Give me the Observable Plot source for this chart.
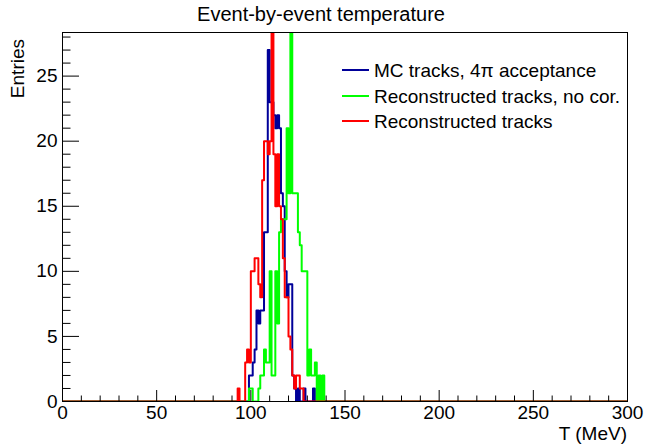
<!DOCTYPE html>
<html><head><meta charset="utf-8">
<script src="https://cdn.jsdelivr.net/npm/d3@7"></script>
<script src="https://cdn.jsdelivr.net/npm/@observablehq/plot@0.6"></script>
<style>
html,body{margin:0;padding:0;background:#fff;}
svg{display:block;}
</style></head><body><div id="chart"></div>
<script>
// ---- chart text ----
const chartTitle = "Event-by-event temperature";
const xTitle = "T (MeV)";
const yTitle = "Entries";
const seriesNames = ["MC tracks, 4\u03c0 acceptance", "Reconstructed tracks, no cor.", "Reconstructed tracks"];
const seriesColors = ["#000099", "#00ff00", "#ff0000"];

// ---- histogram axis (1 MeV bins from 0 to 300 MeV) ----
const tRange = [0, 300];
const binWidth = 1;
const yMax = 28.35;

// ---- bin contents (first bin low edge, then counts per 1 MeV bin) ----
const mcFirstBin = 99;
const mcCounts = [2, 2, 3, 4, 7, 6, 7, 7, 13, 13, 27, 23, 23, 22, 21, 22, 21, 16, 15, 10, 8, 9, 9, 2, 1, 0, 1, 0, 0, 1, 0, 0, 0, 0, 1];

const noCorFirstBin = 99;
const noCorCounts = [1, 1, 0, 0, 0, 1, 2, 2, 4, 3, 3, 10, 2, 2, 10, 6, 13, 14, 14, 14, 21, 16, 30, 16, 16, 16, 13, 12, 10, 10, 10, 2, 4, 2, 2, 3, 0, 2, 0, 2];

const recoFirstBin = 93;
const recoCounts = [1, 0, 0, 0, 3, 4, 3, 10, 10, 11, 11, 9, 8, 17, 20, 20, 19, 20, 30, 19, 15, 19, 15, 14, 11, 8, 8, 5, 4, 2, 1, 2, 2, 1, 1];

// ---- ticks ----
const xMajorTicks = [0, 50, 100, 150, 200, 250, 300];
const xMinorTicks = [10, 20, 30, 40, 60, 70, 80, 90, 110, 120, 130, 140, 160, 170, 180, 190, 210, 220, 230, 240, 260, 270, 280, 290];
const yMajorTicks = [0, 5, 10, 15, 20, 25];
const yMinorTicks = [1, 2, 3, 4, 6, 7, 8, 9, 11, 12, 13, 14, 16, 17, 18, 19, 21, 22, 23, 24, 26, 27, 28];

// build step rows: one row per bin low edge plus the closing edge
function histRows(name, first, counts) {
  const rows = [];
  const nBins = Math.round((tRange[1] - tRange[0]) / binWidth);
  for (let i = 0; i < nBins; i++) {
    const t = tRange[0] + i * binWidth;
    const k = Math.round((t - first) / binWidth);
    const n = (k >= 0 && k < counts.length) ? counts[k] : 0;
    rows.push({series: name, t, n});
  }
  rows.push({series: name, t: tRange[1], n: rows[rows.length - 1].n});
  return rows;
}
const mcRows = histRows(seriesNames[0], mcFirstBin, mcCounts);
const noCorRows = histRows(seriesNames[1], noCorFirstBin, noCorCounts);
const recoRows = histRows(seriesNames[2], recoFirstBin, recoCounts);

const W = 646, H = 444;
const mL = 62, mR = 19, mT = 32, mB = 43;
const plotW = W - mL - mR, plotH = H - mT - mB;
const font = "'Liberation Sans', Arial, Helvetica, sans-serif";

const chart = Plot.plot({
  width: W, height: H,
  marginLeft: mL, marginRight: mR, marginTop: mT, marginBottom: mB,
  style: {fontFamily: font, fontSize: "19px", background: "#fff", color: "#000", overflow: "visible"},
  x: {domain: tRange},
  y: {domain: [0, yMax]},
  marks: [
    Plot.line(mcRows, {x: "t", y: "n", curve: "step-after", stroke: seriesColors[0], strokeWidth: 2, clip: true}),
    Plot.line(noCorRows, {x: "t", y: "n", curve: "step-after", stroke: seriesColors[1], strokeWidth: 2, clip: true}),
    Plot.line(recoRows, {x: "t", y: "n", curve: "step-after", stroke: seriesColors[2], strokeWidth: 2, clip: true}),
    Plot.frame({stroke: "#000", strokeWidth: 1}),
    Plot.tickY(yMinorTicks, {y: d => d, insetRight: plotW - 8.5, stroke: "#000"}),
    Plot.tickY(yMajorTicks, {y: d => d, insetRight: plotW - 17, stroke: "#000"}),
    Plot.tickX(xMinorTicks, {x: d => d, insetTop: plotH - 5.5, stroke: "#000"}),
    Plot.tickX(xMajorTicks, {x: d => d, insetTop: plotH - 11, stroke: "#000"}),
    Plot.axisX({ticks: xMajorTicks, tickSize: 0, tickPadding: 4, label: null, fontSize: 19}),
    Plot.axisY({ticks: yMajorTicks, tickSize: 0, tickPadding: 5, label: null, fontSize: 19})
  ]
});
document.getElementById("chart").appendChild(chart);

const svg = d3.select(chart);
svg.append("text").text(chartTitle)
  .attr("x", 321).attr("y", 21).attr("text-anchor", "middle")
  .attr("font-family", font).attr("font-size", 20).attr("fill", "#000");
svg.append("text").text(xTitle)
  .attr("x", W - mR).attr("y", 440).attr("text-anchor", "end")
  .attr("font-family", font).attr("font-size", 19).attr("fill", "#000");
svg.append("text").text(yTitle)
  .attr("transform", `translate(24,${mT + 7}) rotate(-90)`).attr("text-anchor", "end")
  .attr("font-family", font).attr("font-size", 19).attr("fill", "#000");

// legend
const legendRows = [70, 96, 121];
seriesNames.forEach((name, i) => {
  const g = svg.append("g");
  g.append("line").attr("x1", 342).attr("x2", 369).attr("y1", legendRows[i]).attr("y2", legendRows[i])
    .attr("stroke", seriesColors[i]).attr("stroke-width", 2);
  g.append("text").text(name).attr("x", 374).attr("y", legendRows[i]).attr("dy", "0.35em")
    .attr("text-anchor", "start")
    .attr("font-family", font).attr("font-size", 19).attr("fill", "#000");
});
</script>
</body></html>
